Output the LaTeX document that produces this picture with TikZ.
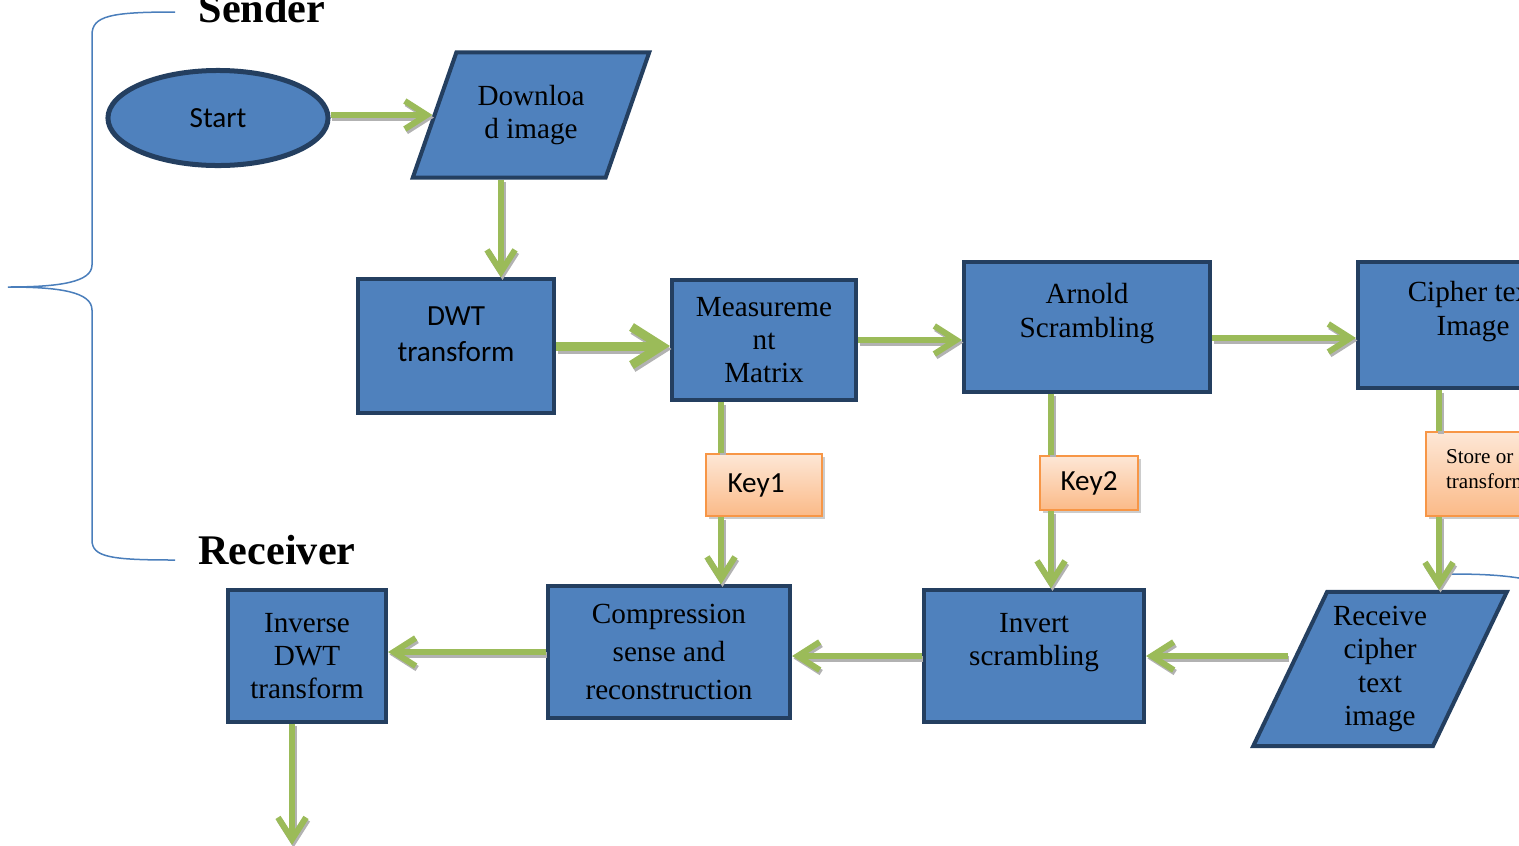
\documentclass[tikz,border=0pt]{standalone}
\usepackage{fontspec}
\setmainfont{Liberation Serif}
\setsansfont{Carlito}
\usetikzlibrary{arrows.meta,shapes.geometric,shadows}
\definecolor{boxblue}{HTML}{4F81BD}
\definecolor{boxline}{HTML}{243F60}
\definecolor{flowgreen}{HTML}{9BBB59}
\definecolor{keyline}{HTML}{F79646}
\definecolor{keytop}{HTML}{FDE7D6}
\definecolor{keybot}{HTML}{FBBA88}
\definecolor{bracecol}{HTML}{4A7EBB}

\begin{document}
\begin{tikzpicture}[x = 0.01cm, y = -0.01cm,
  proc/.style = {draw = boxline, fill = boxblue, line width = 0.04cm, align = center, inner sep = 0pt,
    font = \fontsize{8.3}{9.5}\selectfont},
  io/.style = {proc, trapezium, trapezium left angle = 62.5, trapezium right angle = 117.5, trapezium stretches = true},
  key/.style = {draw = keyline, line width = 0.02cm, top color = keytop, bottom color = keybot,
    drop shadow = {shadow xshift = 0.03cm, shadow yshift = -0.03cm, fill = black!40, opacity = 0.5},
    font = \sffamily\fontsize{8.3}{9.5}\selectfont},
  tipA/.tip = {Straight Barb[length = 0.22cm, width = 0.28cm]},
  tipB/.tip = {Straight Barb[length = 0.3cm, width = 0.38cm]},
  link/.style = {draw = flowgreen, line width = 0.06cm,
    preaction = {draw = black!30, line width = 0.06cm, transform canvas = {xshift = 0.015cm, yshift = -0.025cm}}},
  post/.style = {draw = flowgreen, line width = 0.06cm, -tipA,
    preaction = {draw = black!30, line width = 0.06cm, -tipA, transform canvas = {xshift = 0.015cm, yshift = -0.025cm}}},
  bigpost/.style = {draw = flowgreen, line width = 0.09cm, -tipB,
    preaction = {draw = black!30, line width = 0.09cm, -tipB, transform canvas = {xshift = 0.015cm, yshift = -0.03cm}}},
  side/.style = {font = \bfseries\fontsize{12}{14}\selectfont}]
\useasboundingbox (0,0) rectangle (1519,845);
\clip (0,0) rectangle (1519,845);

% brackets
\draw[bracecol, line width = 0.015cm] (175,12) .. controls (110,12) and (92,16) .. (92,35) -- (92,265)
  .. controls (92,282) and (60,287) .. (8,287) .. controls (60,287) and (92,292) .. (92,310) -- (92,540)
  .. controls (92,557) and (110,560) .. (175,560);
\draw[bracecol, line width = 0.015cm] (1450,574) .. controls (1490,574) and (1510,576) .. (1530,580);

\node[side] (snd) at (262,8) {Sender};
\node[side] (rcv) at (277,550) {Receiver};

% sender
\node[proc, ellipse, minimum width = 2.2cm, minimum height = 0.95cm, line width = 0.05cm,
  font = \sffamily\fontsize{8.3}{9.5}\selectfont] (start) at (218,118) {Start};
\node[io, minimum width = 2.37cm, minimum height = 1.25cm] (dl) at (531,115) {Downloa\\d image};
\node[proc, minimum width = 1.96cm, minimum height = 1.33cm,
  font = \sffamily\fontsize{8.3}{10.2}\selectfont] (dwt) at (456,346) {DWT\\transform\\[-0.12cm]\mbox{}};
\node[proc, minimum width = 1.84cm, minimum height = 1.20cm] (meas) at (764,340) {Measureme\\nt\\Matrix};
\node[proc, minimum width = 2.46cm, minimum height = 1.29cm] (arn) at (1087,327) {Arnold\\Scrambling\\\mbox{}};
\node[proc, minimum width = 2.30cm, minimum height = 1.26cm] (ciph) at (1473,325) {Cipher text\\Image\\\mbox{}};

% keys
\node[key, minimum width = 1.15cm, minimum height = 0.62cm] (k1) at (764,485) {Key1\hspace*{0.16cm}};
\node[key, minimum width = 0.98cm, minimum height = 0.54cm] (k2) at (1089,483) {Key2};
\node[key, anchor = west, align = left, inner xsep = 0.2cm, minimum height = 0.83cm,
  font = \fontsize{6}{7.1}\selectfont] (store) at (1425,474) {Store or\\transform\\[-0.15cm]\mbox{}};

% receiver
\node[io, minimum width = 2.54cm, minimum height = 1.54cm] (rec) at (1380,669) {Receive\\cipher\\text\\image};
\node[proc, minimum width = 2.20cm, minimum height = 1.31cm] (invt) at (1034,656) {Invert\\scrambling\\\mbox{}};
\node[proc, minimum width = 2.42cm, minimum height = 1.31cm] (comp) at (669,652) {Compression\\[1.4pt]sense and\\[1.4pt]reconstruction};
\node[proc, minimum width = 1.58cm, minimum height = 1.31cm] (inv) at (307,656) {Inverse\\DWT\\transform};

\coordinate (drop) at (501,0);
\coordinate (tap1) at (721,0);
\coordinate (tap2) at (1051,0);
\coordinate (tap3) at (1439,0);
\coordinate (out) at (292,845);

\draw[post] ([yshift = 0.03cm]start.east) -- ([yshift = 0.03cm]start.east -| dl.west);
\draw[post] (dl.south -| drop) -- (dwt.north -| drop);
\draw[bigpost] (dwt.east) -- (dwt.east -| meas.west);
\draw[post] (meas.east) -- (meas.east -| arn.west);
\draw[post] ([yshift = -0.11cm]arn.east) -- ([yshift = -0.11cm]arn.east -| ciph.west);

\draw[link] (meas.south -| tap1) -- (k1.north -| tap1);
\draw[post] (k1.south -| tap1) -- (comp.north -| tap1);
\draw[link] (arn.south -| tap2) -- (k2.north -| tap2);
\draw[post] (k2.south -| tap2) -- (invt.north -| tap2);
\draw[link] (ciph.south -| tap3) -- (store.north -| tap3);
\draw[post] (store.south -| tap3) -- (rec.north -| tap3);

\draw[post] (rec.west |- invt.east) -- (invt.east);
\draw[post] (invt.west) -- (invt.west -| comp.east);
\draw[post] (comp.west) -- (comp.west -| inv.east);
\draw[post] (inv.south -| out) -- (out);
\end{tikzpicture}
\end{document}
